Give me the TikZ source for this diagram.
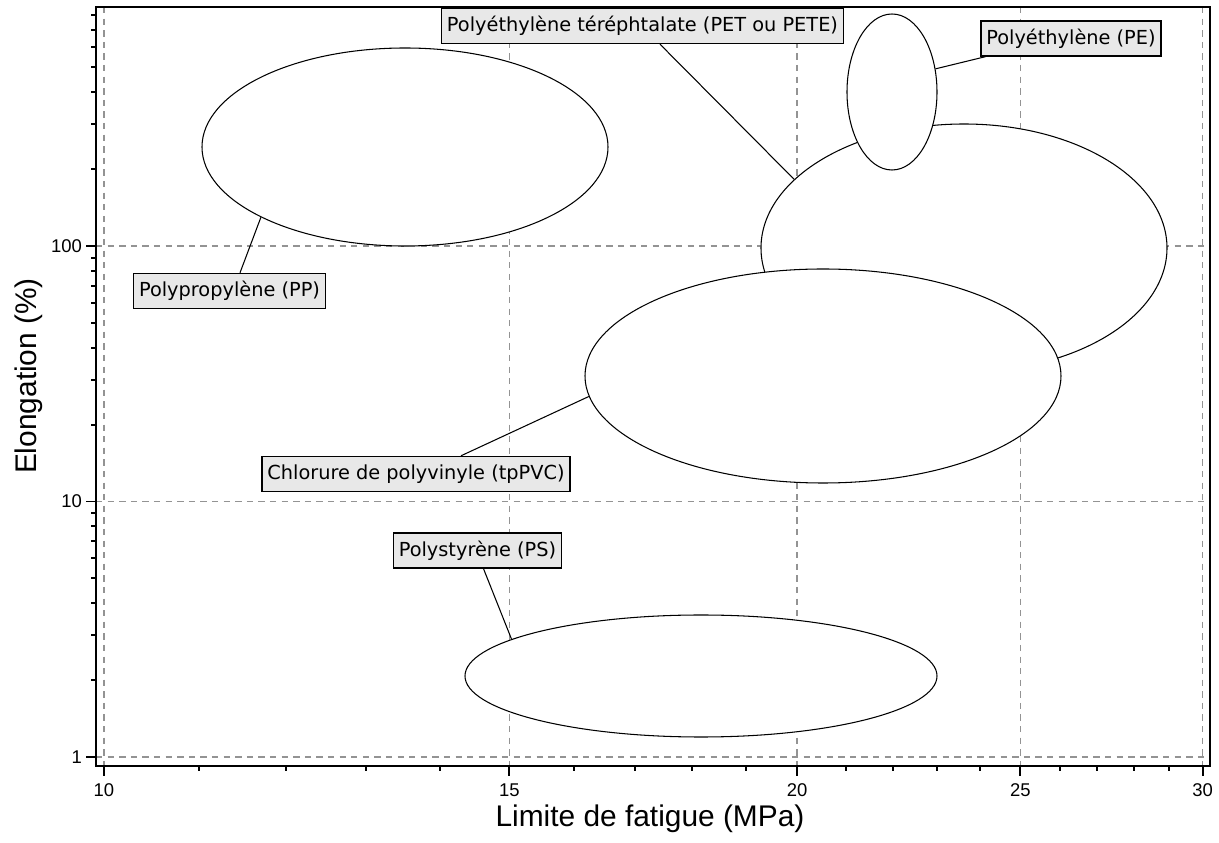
\documentclass[tikz,border=0pt]{standalone}
\usepackage{fontspec}
\setmainfont{Liberation Sans}
\newfontfamily\tagfont{DejaVu Sans}
\usepackage{tikz}
\usetikzlibrary{shapes.geometric}

\begin{document}
\begin{tikzpicture}[x=0.2mm, y=-0.2mm,
    grid/.style={draw=gray!85, dash pattern=on 3.6pt off 3pt, line width=0.9pt},
    frame/.style={line width=1.1pt},
    region/.style={ellipse, draw, fill=white, line width=0.6pt, inner sep=0pt},
    tag/.style={rectangle, draw, fill=gray!18, line width=0.8pt, font=\tagfont\fontsize{11}{13}\selectfont, minimum height=7mm, inner xsep=3pt},
    leader/.style={line width=0.6pt},
    ticklab/.style={font=\fontsize{10.5}{12}\selectfont, inner sep=1pt},
    axlab/.style={font=\fontsize{17}{20}\selectfont}
]
    \useasboundingbox (0,0) rectangle (1219,843);

    % Grid (log scales)
    \foreach \v in {10,15,20,25,30} {
        \pgfmathsetmacro\xpos{104+2303*(log10(\v)-1)}
        \draw[grid] (\xpos,7) -- (\xpos,766);
    }
    \foreach \v in {1,10,100} {
        \pgfmathsetmacro\ypos{757-255.5*log10(\v)}
        \draw[grid] (96,\ypos) -- (1210,\ypos);
    }

    % Material regions
    \node[region, minimum width=81.2mm, minimum height=39.6mm] (pp) at (405,147) {};
    \node[region, minimum width=94.4mm, minimum height=24.4mm] (ps) at (701,676) {};
    \node[region, minimum width=81.2mm, minimum height=49.6mm] (pet) at (964,248) {};
    \node[region, minimum width=18mm, minimum height=31.2mm] (pe) at (892,92) {};
    \node[region, minimum width=95.2mm, minimum height=42.8mm] (pvc) at (823,376) {};

    % Labels
    \node[tag] (pplab) at (229.5,291) {Polypropylène (PP)};
    \node[tag] (pvclab) at (416,474) {Chlorure de polyvinyle (tpPVC)};
    \node[tag] (pslab) at (477.5,550.5) {Polystyrène (PS)};
    \node[tag] (petlab) at (642.5,26) {Polyéthylène téréphtalate (PET ou PETE)};
    \node[tag] (pelab) at (1071,38.5) {Polyéthylène (PE)};

    % Leaders
    \draw[leader] ([xshift=2.1mm]pplab.north) -- (pp.206);
    \draw[leader] ([xshift=9mm]pvclab.north) -- (pvc.185);
    \draw[leader] ([xshift=1.2mm]pslab.south) -- (ps.169);
    \draw[leader] ([xshift=3.5mm]petlab.south) -- (pet.158);
    \draw[leader] ([xshift=1mm]pelab.south west) -- (pe.28);

    % Axes
    \draw[frame] (96,7) rectangle (1210,766);
    \foreach \v in {10,15,20,25,30} {
        \pgfmathsetmacro\xpos{104+2303*(log10(\v)-1)}
        \draw[frame] (\xpos,766) -- (\xpos,776);
        \node[ticklab] (xt\v) at (\xpos,790) {\v};
    }
    \foreach \v in {11,12,13,14,16,17,18,19,21,22,23,24,26,27,28,29} {
        \pgfmathsetmacro\xpos{104+2303*(log10(\v)-1)}
        \draw[frame] (\xpos,766) -- (\xpos,771);
    }
    \foreach \v in {1,10,100} {
        \pgfmathsetmacro\ypos{757-255.5*log10(\v)}
        \draw[frame] (86,\ypos) -- (96,\ypos);
        \node[ticklab, anchor=east] (yt\v) at (84,\ypos) {\v};
    }
    \foreach \v in {2,...,9,20,30,40,50,60,70,80,90,200,300,400,500,600,700,800} {
        \pgfmathsetmacro\ypos{757-255.5*log10(\v)}
        \draw[frame] (91,\ypos) -- (96,\ypos);
    }

    % Axis titles
    \node[axlab] (xtitle) at (650,819) {Limite de fatigue (MPa)};
    \node[axlab, rotate=90] (ytitle) at (29,376) {Elongation (\%)};
\end{tikzpicture}
\end{document}
